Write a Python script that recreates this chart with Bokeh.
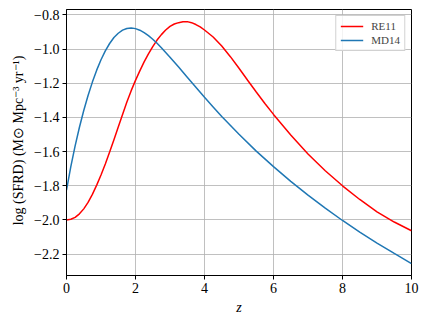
from bokeh.plotting import figure
from bokeh.models import FixedTicker, Range1d, Legend, LegendItem
from bokeh.embed import file_html
from bokeh.resources import INLINE

# Redshift samples and log SFRD values
z_md14 = [0.0, 0.125, 0.25, 0.375, 0.5, 0.625, 0.75, 0.875, 1.0, 1.125, 1.25, 1.375,
          1.5, 1.625, 1.75, 1.875, 2.0, 2.125, 2.25, 2.375, 2.5, 2.625, 2.75, 3.0,
          3.25, 3.5, 3.75, 4.0, 4.25, 4.5, 5.0, 5.5, 6.0, 6.5, 7.0, 7.5, 8.0, 8.5,
          9.0, 9.5, 10.0]
md14 = [-1.825, -1.688, -1.566, -1.457, -1.359, -1.271, -1.193, -1.123, -1.062, -1.010,
        -0.967, -0.932, -0.907, -0.889, -0.879, -0.876, -0.880, -0.889, -0.903, -0.921,
        -0.942, -0.966, -0.992, -1.047, -1.105, -1.164, -1.223, -1.282, -1.338, -1.394,
        -1.498, -1.597, -1.688, -1.774, -1.855, -1.931, -2.003, -2.071, -2.135, -2.196,
        -2.255]

z_re11 = [0.0, 0.125, 0.25, 0.375, 0.5, 0.625, 0.75, 0.875, 1.0, 1.125, 1.25, 1.375,
          1.5, 1.625, 1.75, 1.875, 2.0, 2.125, 2.25, 2.375, 2.5, 2.625, 2.75, 2.875,
          3.0, 3.125, 3.25, 3.375, 3.5, 3.625, 3.75, 3.875, 4.0, 4.25, 4.5, 4.75, 5.0,
          5.25, 5.5, 5.75, 6.0, 6.5, 7.0, 7.5, 8.0, 8.5, 9.0, 9.5, 10.0]
re11 = [-2.000, -1.996, -1.985, -1.964, -1.935, -1.897, -1.850, -1.796, -1.737, -1.672,
        -1.602, -1.530, -1.456, -1.382, -1.310, -1.243, -1.183, -1.127, -1.075, -1.028,
        -0.985, -0.947, -0.915, -0.888, -0.867, -0.853, -0.845, -0.840, -0.839, -0.845,
        -0.856, -0.870, -0.888, -0.929, -0.982, -1.044, -1.112, -1.182, -1.251, -1.318,
        -1.382, -1.502, -1.614, -1.712, -1.800, -1.880, -1.952, -2.012, -2.063]

x_ticks = [0, 2, 4, 6, 8, 10]
y_ticks = [-2.2, -2.0, -1.8, -1.6, -1.4, -1.2, -1.0, -0.8]
y_tick_labels = ["\u22122.2", "\u22122.0", "\u22121.8", "\u22121.6", "\u22121.4",
                 "\u22121.2", "\u22121.0", "\u22120.8"]

FONT = "Liberation Serif"

p = figure(width=425, height=318, output_backend="svg", toolbar_location=None,
           x_range=Range1d(0, 10), y_range=Range1d(-2.325, -0.768),
           min_border_left=66, min_border_right=14, min_border_top=9,
           min_border_bottom=43)

r_re = p.line(z_re11, re11, line_color="#ff0000", line_width=1.5)
r_md = p.line(z_md14, md14, line_color="#1f77b4", line_width=1.5)

p.xaxis.ticker = FixedTicker(ticks=x_ticks)
p.yaxis.ticker = FixedTicker(ticks=y_ticks)
p.yaxis.major_label_overrides = {t: l for t, l in zip(y_ticks, y_tick_labels)}

for ax in (p.xaxis[0], p.yaxis[0]):
    ax.major_label_text_font = FONT
    ax.major_label_text_font_size = "14px"
    ax.major_label_text_color = "black"
    ax.axis_label_text_font = FONT
    ax.axis_label_text_font_size = "14px"
    ax.axis_label_text_color = "black"
    ax.axis_label_text_font_style = "normal"
    ax.major_tick_in = 0
    ax.major_tick_out = 4
    ax.minor_tick_line_color = None
    ax.axis_line_color = "black"
    ax.major_tick_line_color = "black"
    ax.major_label_standoff = 3

p.xaxis.axis_label = "z"
p.xaxis.axis_label_text_font_style = "italic"
p.xaxis.axis_label_standoff = 4
p.yaxis.axis_label = "log (SFRD) (M\u2299 Mpc\u207b\u00b3 yr\u207b\u00b9)"
p.yaxis.axis_label_standoff = 5

p.xgrid.grid_line_color = "#b0b0b0"
p.ygrid.grid_line_color = "#b0b0b0"
p.xgrid.grid_line_alpha = 0.8
p.ygrid.grid_line_alpha = 0.8
p.outline_line_color = "black"
p.outline_line_width = 1
p.outline_line_alpha = 1.0
p.background_fill_color = "white"
p.border_fill_color = "white"

legend = Legend(items=[LegendItem(label="RE11", renderers=[r_re]),
                       LegendItem(label="MD14", renderers=[r_md])],
                location="top_right")
legend.label_text_font = FONT
legend.label_text_font_size = "11px"
legend.glyph_width = 23
legend.glyph_height = 12
legend.label_height = 12
legend.label_standoff = 8
legend.spacing = 2
legend.padding = 4
legend.margin = 6
legend.border_line_color = "#cccccc"
legend.border_line_alpha = 0.9
legend.background_fill_alpha = 0.8
p.add_layout(legend)

open("out.html", "w").write(file_html(p, INLINE))
